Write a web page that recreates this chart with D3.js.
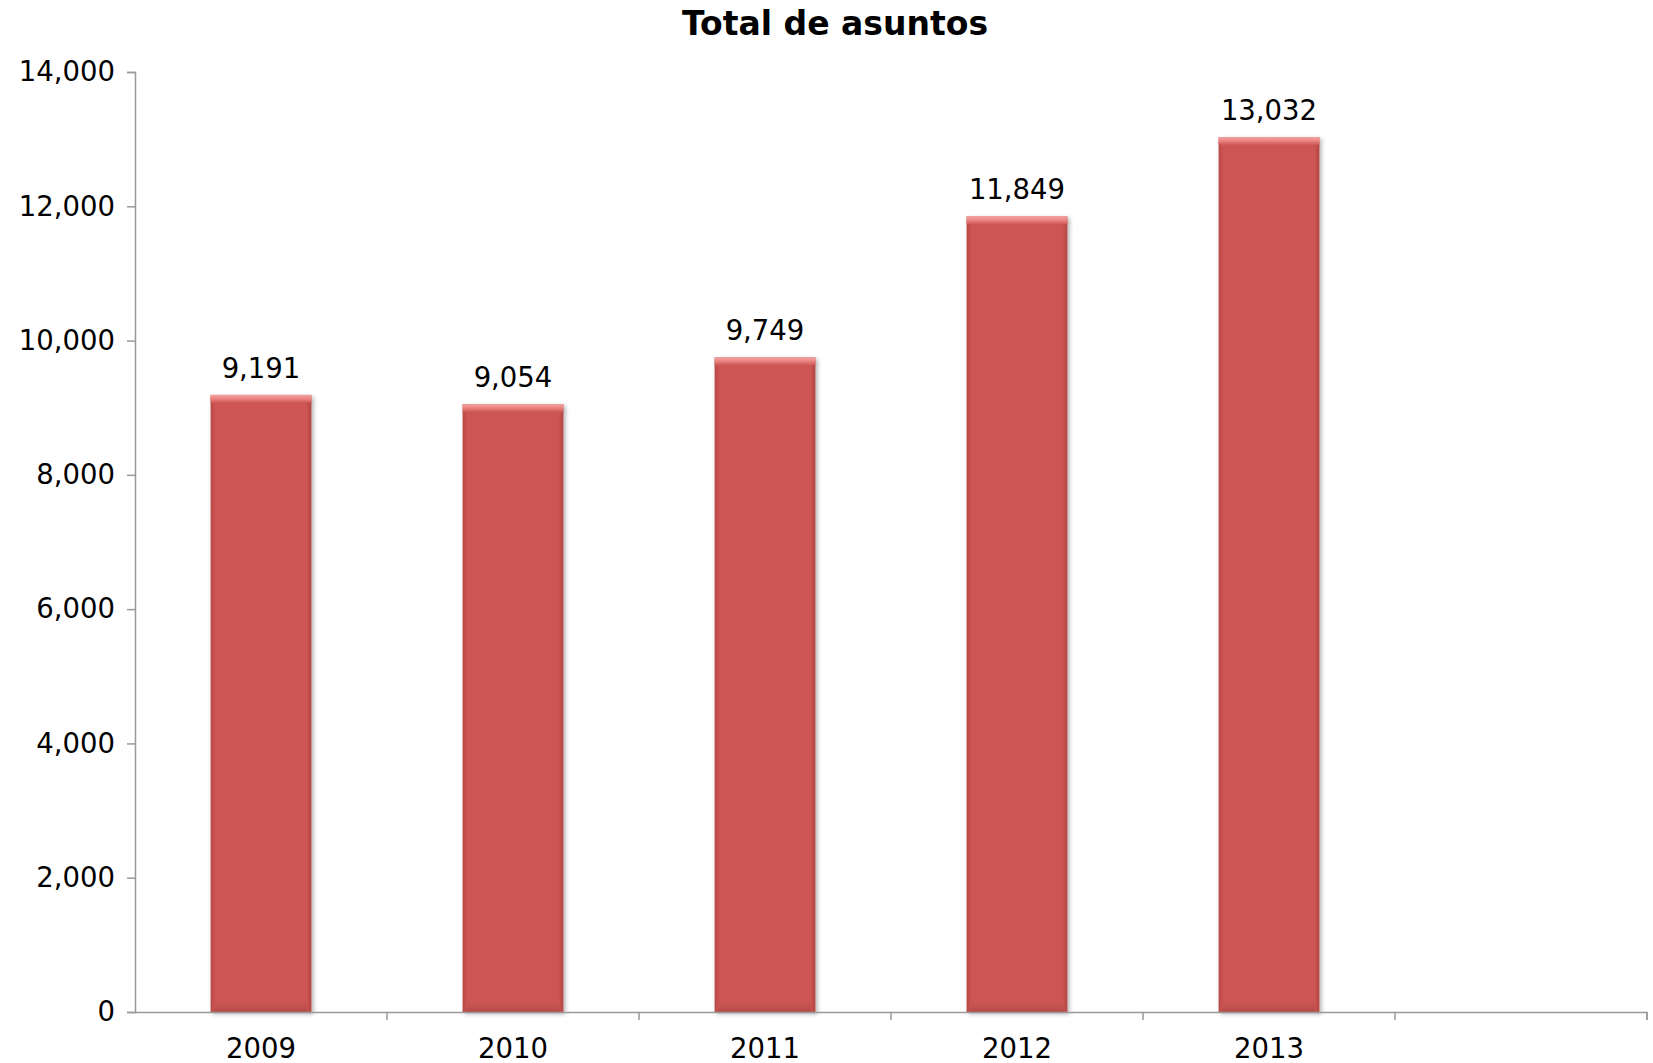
<!DOCTYPE html>
<html>
<head>
<meta charset="utf-8">
<script src="https://cdn.jsdelivr.net/npm/d3@7"></script>
<style>
  body { margin: 0; background: white; }
  text { font-family: "DejaVu Sans", Verdana, sans-serif; }
</style>
</head>
<body>
<main></main>
<script>
// data
const years = ["2009", "2010", "2011", "2012", "2013"]
const totals = [9191, 9054, 9749, 11849, 13032]
const yTicks = [0, 2000, 4000, 6000, 8000, 10000, 12000, 14000]

const svgWidth = 1653
const svgHeight = 1063

const plotLeft = 135
const plotRight = 1647
const plotTop = 72
const plotBottom = 1012

let svg = d3.select("main")
    .append("svg")
    .attr("width", svgWidth)
    .attr("height", svgHeight)
    .style("background-color", "white")

// gradients for the bevelled bars
let defs = svg.append("defs")

let topGrad = defs.append("linearGradient")
    .attr("id", "topBevel")
    .attr("x1", 0).attr("y1", 0).attr("x2", 0).attr("y2", 1)
topGrad.append("stop").attr("offset", "0%").attr("stop-color", "#f2a3a1")
topGrad.append("stop").attr("offset", "45%").attr("stop-color", "#ec8583")
topGrad.append("stop").attr("offset", "100%").attr("stop-color", "#cd5654")

let sideGrad = defs.append("linearGradient")
    .attr("id", "sideShade")
    .attr("x1", 0).attr("y1", 0).attr("x2", 1).attr("y2", 0)
sideGrad.append("stop").attr("offset", "0%").attr("stop-color", "#b84946")
sideGrad.append("stop").attr("offset", "5%").attr("stop-color", "#cd5654")
sideGrad.append("stop").attr("offset", "95%").attr("stop-color", "#cd5654")
sideGrad.append("stop").attr("offset", "100%").attr("stop-color", "#b34542")

let bottomGrad = defs.append("linearGradient")
    .attr("id", "bottomShade")
    .attr("x1", 0).attr("y1", 0).attr("x2", 0).attr("y2", 1)
bottomGrad.append("stop").attr("offset", "0%").attr("stop-color", "#cd5654")
bottomGrad.append("stop").attr("offset", "100%").attr("stop-color", "#b54a47")

let shadow = defs.append("filter")
    .attr("id", "shadow")
    .attr("x", "-10%").attr("y", "-5%").attr("width", "125%").attr("height", "115%")
shadow.append("feDropShadow")
    .attr("dx", 2).attr("dy", 2).attr("stdDeviation", 2)
    .attr("flood-color", "#000").attr("flood-opacity", 0.3)

svg.append("text")
    .attr("x", 835)
    .attr("y", 35)
    .style("text-anchor", "middle")
    .style("font-size", "33px")
    .style("font-weight", "bold")
    .attr("fill", "black")
    .text("Total de asuntos")

let yScale = d3.scaleLinear()
    .domain([0, 14000])
    .range([plotBottom, plotTop])

// six slots, last one is empty
let xScale = d3.scaleBand()
    .domain(years.concat([""]))
    .range([plotLeft, plotRight])
    .paddingInner(0)

let barWidth = xScale.bandwidth() * 0.4

let bars = svg.append("g")
    .selectAll("g")
    .data(years)
    .enter()
    .append("g")
    .attr("filter", "url(#shadow)")

bars.append("rect")
    .attr("x", (d) => xScale(d) + (xScale.bandwidth() - barWidth) / 2)
    .attr("y", (d, i) => yScale(totals[i]))
    .attr("width", barWidth)
    .attr("height", (d, i) => plotBottom - yScale(totals[i]))
    .attr("fill", "url(#sideShade)")

bars.append("rect")
    .attr("x", (d) => xScale(d) + (xScale.bandwidth() - barWidth) / 2 + 4)
    .attr("y", plotBottom - 10)
    .attr("width", barWidth - 8)
    .attr("height", 10)
    .attr("fill", "url(#bottomShade)")

bars.append("rect")
    .attr("x", (d) => xScale(d) + (xScale.bandwidth() - barWidth) / 2)
    .attr("y", (d, i) => yScale(totals[i]))
    .attr("width", barWidth)
    .attr("height", 8)
    .attr("fill", "url(#topBevel)")

svg.append("g")
    .selectAll("text")
    .data(years)
    .enter()
    .append("text")
    .attr("x", (d) => xScale(d) + xScale.bandwidth() / 2)
    .attr("y", (d, i) => yScale(totals[i]) - 17)
    .style("text-anchor", "middle")
    .style("font-size", "27.5px")
    .attr("fill", "black")
    .text((d, i) => d3.format(",")(totals[i]))

let leftAxis = d3.axisLeft(yScale)
    .tickValues(yTicks)
    .tickFormat(d3.format(","))
    .tickSize(8)
    .tickPadding(12)

let yAxis = svg.append("g")
    .attr("transform", `translate(${plotLeft}, 0)`)
    .call(leftAxis)

let bottomAxis = d3.axisBottom(xScale)
    .tickSize(0)
    .tickPadding(26)

let xAxis = svg.append("g")
    .attr("transform", `translate(0, ${plotBottom})`)
    .call(bottomAxis)

// tick marks on the category boundaries
xAxis.selectAll(".bound")
    .data(years.concat([""]))
    .enter()
    .append("line")
    .attr("class", "bound")
    .attr("x1", (d) => xScale(d) + xScale.bandwidth())
    .attr("x2", (d) => xScale(d) + xScale.bandwidth())
    .attr("y1", 0)
    .attr("y2", 8)
    .style("stroke", "#999")
    .style("stroke-width", 1.5)

for (let ax of [yAxis, xAxis]) {
    ax.select(".domain")
        .style("stroke", "#999")
        .style("stroke-width", 1.5)
    ax.selectAll(".tick line")
        .style("stroke", "#999")
        .style("stroke-width", 1.5)
    ax.selectAll("text")
        .style("font-family", "DejaVu Sans, Verdana, sans-serif")
        .style("font-size", "27.5px")
        .attr("fill", "black")
}

xAxis.select(".domain").attr("d", `M${plotLeft},0.5H${plotRight}V8`)
</script>
</body>
</html>
